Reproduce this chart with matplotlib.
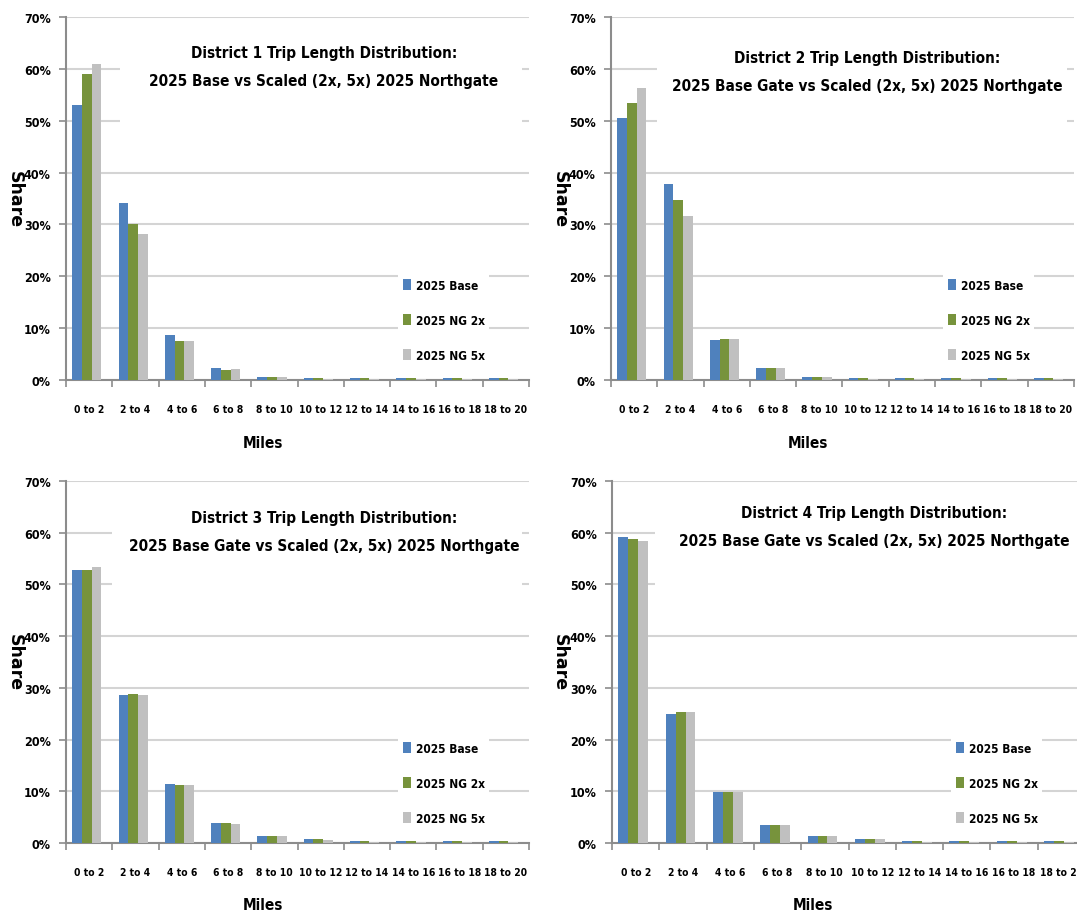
import numpy as np
import matplotlib
matplotlib.use('Agg')
import matplotlib.pyplot as plt
from matplotlib import font_manager
from matplotlib.patches import Rectangle
from matplotlib.ticker import FixedLocator, PercentFormatter

# data (share of trips, %)
bins = ['0 to 2', '2 to 4', '4 to 6', '6 to 8', '8 to 10',
        '10 to 12', '12 to 14', '14 to 16', '16 to 18', '18 to 20']
series_names = ['2025 Base', '2025 NG 2x', '2025 NG 5x']
colors = ['#4F81BD', '#77933C', '#C0C0C0']

d1_base = [53.1, 34.2, 8.7, 2.4, 0.6, 0.3, 0.3, 0.3, 0.3, 0.3]
d1_ng2x = [59.1, 30.1, 7.5, 1.9, 0.6, 0.3, 0.3, 0.3, 0.3, 0.3]
d1_ng5x = [60.9, 28.1, 7.5, 2.1, 0.5, 0.2, 0.2, 0.2, 0.2, 0.2]

d2_base = [50.5, 37.8, 7.7, 2.4, 0.6, 0.3, 0.3, 0.3, 0.3, 0.3]
d2_ng2x = [53.5, 34.7, 8.0, 2.4, 0.6, 0.3, 0.3, 0.3, 0.3, 0.3]
d2_ng5x = [56.4, 31.7, 8.0, 2.4, 0.5, 0.2, 0.2, 0.2, 0.2, 0.2]

d3_base = [52.8, 28.6, 11.5, 3.9, 1.4, 0.7, 0.3, 0.3, 0.3, 0.3]
d3_ng2x = [52.8, 28.8, 11.3, 3.9, 1.4, 0.7, 0.3, 0.3, 0.3, 0.3]
d3_ng5x = [53.3, 28.6, 11.3, 3.6, 1.4, 0.6, 0.2, 0.2, 0.2, 0.2]

d4_base = [59.1, 25.0, 9.8, 3.4, 1.4, 0.7, 0.3, 0.3, 0.3, 0.3]
d4_ng2x = [58.7, 25.3, 9.8, 3.4, 1.4, 0.7, 0.3, 0.3, 0.3, 0.3]
d4_ng5x = [58.4, 25.3, 9.8, 3.4, 1.4, 0.7, 0.2, 0.2, 0.2, 0.2]

titles = [
    'District 1 Trip Length Distribution:\n2025 Base vs Scaled (2x, 5x) 2025 Northgate',
    'District 2 Trip Length Distribution:\n2025 Base Gate vs Scaled (2x, 5x) 2025 Northgate',
    'District 3 Trip Length Distribution:\n2025 Base Gate vs Scaled (2x, 5x) 2025 Northgate',
    'District 4 Trip Length Distribution:\n2025 Base Gate vs Scaled (2x, 5x) 2025 Northgate',
]
panels = [
    [d1_base, d1_ng2x, d1_ng5x],
    [d2_base, d2_ng2x, d2_ng5x],
    [d3_base, d3_ng2x, d3_ng5x],
    [d4_base, d4_ng2x, d4_ng5x],
]

W, H = 1077, 920

# a narrow bold face, if one is there
names = set(f.name for f in font_manager.fontManager.ttflist)
cond = [f for f in font_manager.fontManager.ttflist
        if f.name == 'DejaVu Sans' and 'ondensed' in str(f.stretch) + f.fname]
if 'Liberation Sans Narrow' in names:
    narrow = dict(family=['Liberation Sans Narrow', 'DejaVu Sans'])
elif cond:
    narrow = dict(family=['DejaVu Sans'], stretch='condensed')
else:
    narrow = dict(family=['Roboto', 'DejaVu Sans'])

# axes boxes in pixels: left, top, right, bottom
boxes = [(66, 18, 529, 381), (611, 18, 1074, 381),
         (66, 482, 529, 844), (612, 482, 1085, 844)]
title_x = [0.557, 0.553, 0.557, 0.555]
title_y = [0.863, 0.85, 0.86, 0.875]
shade_left = [0.117, 0.10, 0.10, 0.09]

fig = plt.figure(figsize=(W / 100, H / 100), dpi=100)

grid_c = '#D4D4D4'
axis_c = '#8C8C8C'
bw = 0.21
x = np.arange(len(bins))

for k in range(4):
    l, t, r, b = boxes[k]
    ax = fig.add_axes([l / W, 1 - b / H, (r - l) / W, (b - t) / H])
    ax.set_axisbelow(True)

    handles = []
    for j, vals in enumerate(panels[k]):
        h = ax.bar(x - 0.05 + (j - 1) * bw, vals, width=bw, color=colors[j],
                   zorder=3, label=series_names[j])
        handles.append(h)

    ax.set_xlim(-0.5, len(bins) - 0.5)
    ax.set_ylim(0, 70)
    ax.yaxis.set_major_locator(FixedLocator(np.arange(0, 71, 10)))
    ax.yaxis.set_major_formatter(PercentFormatter(decimals=0))
    ax.grid(axis='y', color=grid_c, linewidth=1.5)

    ax.xaxis.set_major_locator(FixedLocator(np.arange(-0.5, len(bins), 1.0)))
    ax.xaxis.set_minor_locator(FixedLocator(x))
    ax.set_xticklabels([], minor=False)
    ax.set_xticklabels(bins, minor=True)
    ax.tick_params(axis='x', which='major', length=5, width=1.2, color=axis_c)
    ax.tick_params(axis='x', which='minor', length=0, pad=17)
    ax.tick_params(axis='y', length=5, width=1.2, color=axis_c, pad=6)
    for lab in ax.get_xticklabels(minor=True):
        lab.update(narrow)
        lab.set_fontweight('bold')
        lab.set_fontsize(7.4)
    for lab in ax.get_yticklabels():
        lab.update(narrow)
        lab.set_fontweight('bold')
        lab.set_fontsize(9)

    for side in ['top', 'right']:
        ax.spines[side].set_visible(False)
    for side in ['left', 'bottom']:
        ax.spines[side].set_color(axis_c)
        ax.spines[side].set_linewidth(1.5)

    # white chart-title area that hides the gridlines behind it
    ax.add_patch(Rectangle((shade_left[k], 0.692), 0.985 - shade_left[k], 0.29,
                           transform=ax.transAxes, facecolor='white',
                           edgecolor='none', zorder=2))
    ax.text(title_x[k], title_y[k], titles[k], transform=ax.transAxes,
            ha='center', va='center', fontsize=11, fontweight='bold',
            linespacing=2.1, zorder=4, **narrow)

    prop = font_manager.FontProperties(weight='bold', size=8.6, **narrow)
    leg = ax.legend(handles=handles, labels=series_names, loc='center left',
                    bbox_to_anchor=(0.717, 0.165), borderaxespad=0,
                    frameon=True, fancybox=False, framealpha=1,
                    edgecolor='none', facecolor='white', prop=prop,
                    handlelength=0.67, handleheight=1.0, handletextpad=0.4,
                    labelspacing=1.85, borderpad=0.4)
    leg.set_zorder(5)

    ax.text(0.425, -0.171, 'Miles', transform=ax.transAxes, ha='center',
            va='center', fontsize=11, fontweight='bold', **narrow)
    ax.text(-0.111, 0.5, 'Share', transform=ax.transAxes, ha='center',
            va='center', rotation=-90, fontsize=12.5, fontweight='bold',
            family='DejaVu Sans')

fig.savefig('out.png', dpi=100)
